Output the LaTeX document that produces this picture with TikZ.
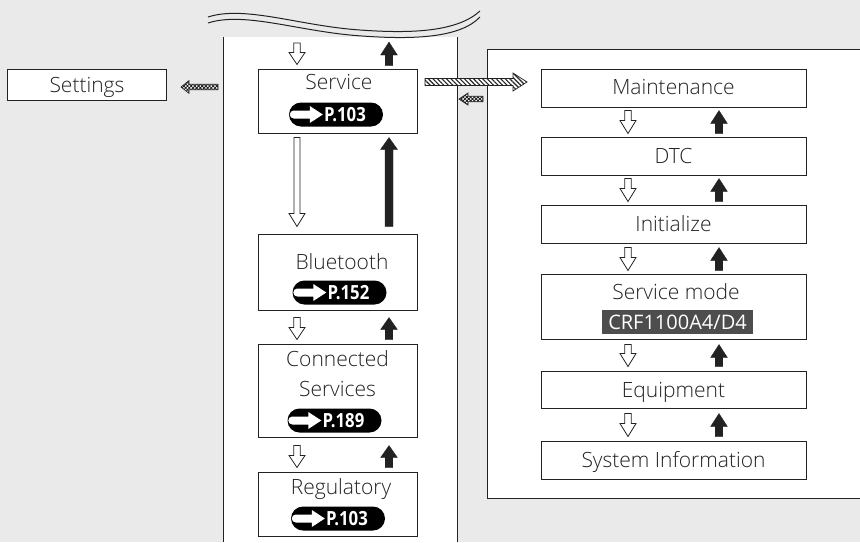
\documentclass[tikz,border=0pt]{standalone}
\usepackage{fontspec}
\setmainfont{Open Sans Light}[BoldFont={Open Sans Bold}]
\newfontfamily\regfont{Open Sans}
\newfontfamily\pillfont{Open Sans Bold}[FakeStretch=0.86]
\usetikzlibrary{calc,patterns,patterns.meta}
\definecolor{bg}{HTML}{EAEAEA}
\definecolor{ln}{HTML}{222222}
\definecolor{tagbg}{HTML}{4D4D4D}
% block arrow: style, from, to, shaft half width, head half width, head length
\newcommand\blockarr[6]{%
  \coordinate (bac) at ($(#3)!#6!(#2)$);
  \path[#1] ($(#2)!#4!90:(#3)$) -- ($(bac)!#4!90:(#3)$) -- ($(bac)!#5!90:(#3)$) -- (#3)
    -- ($(bac)!#5!-90:(#3)$) -- ($(bac)!#4!-90:(#3)$) -- ($(#2)!#4!-90:(#3)$) -- cycle;}
% pair of arrows between two stacked boxes
\newcommand\vpair[7]{%
  \coordinate (xd) at (#3,0); \coordinate (xu) at (#4,0);
  \path (#1.south) ++(0,#5) coordinate (yt);
  \path (#2.north) ++(0,-#6) coordinate (yb);
  \blockarr{hollowar}{yt -| xd}{yb -| xd}{3.2pt}{8pt}{#7}
  \blockarr{solidar}{yb -| xu}{yt -| xu}{3.8pt}{8.4pt}{#7}}
% white arrow glyph inside a pill
\newcommand\pillarrow[1]{%
  \begin{scope}[shift={(#1.west)}]
    \fill[white] (5,-4) -- (21,-4) -- (21,-8.5) -- (34,0) -- (21,8.5) -- (21,4) -- (5,4)
      arc[start angle=90,end angle=270,radius=4] -- cycle;
  \end{scope}}
\begin{document}
\begin{tikzpicture}[x=1pt,y=-1pt,
  box/.style={draw=ln, line width=1pt, fill=white, inner sep=0pt},
  lbox/.style={box, minimum width=159pt},
  rbox/.style={box, minimum width=265pt},
  txt/.style={font=\fontsize{21}{30}\selectfont, inner sep=0pt, text=ln, anchor=base},
  pill/.style={fill=black, rounded corners=12pt, minimum width=94pt, minimum height=24pt, inner sep=0pt},
  pilltxt/.style={font=\pillfont\fontsize{19.5}{21}\selectfont, text=white, inner sep=0pt, anchor=base west},
  tag/.style={fill=tagbg, text=white, font=\regfont\fontsize{20}{24}\selectfont, minimum width=151pt,
    minimum height=24pt, text height=14.3pt, text depth=0pt, inner sep=0pt},
  hollowar/.style={draw=ln, line width=0.8pt, fill=white, line join=miter},
  solidar/.style={draw=ln, fill=ln, line width=0.3pt},
  stripear/.style={draw=ln, line width=0.7pt, preaction={fill=white},
    pattern={Lines[angle=-45,distance=3.2pt,line width=1.1pt]}, pattern color=ln},
  dotar/.style={draw=ln, line width=0.7pt, preaction={fill=white},
    pattern={Hatch[angle=45,distance=2.6pt,line width=0.9pt]}, pattern color=ln},
  wave/.style={draw=ln, line width=1pt}]
\useasboundingbox (0,0) rectangle (860,542);
\fill[bg] (0,0) rectangle (860,542);

% centre panel
\fill[white] (223,37) rectangle (457,542);
\draw[ln, line width=1pt] (223,37) -- (223,542) (457,37) -- (457,542);
% right panel
\draw[ln, line width=1pt, fill=white] (487,49) rectangle (875,498);

% broken-off top
\path[wave] (208,17) .. controls (245,5) and (300,26) .. (360,30) .. controls (415,34) and (458,31) .. (480,11);
\path[wave] (208,23) .. controls (245,11) and (300,32) .. (362,36) .. controls (417,40) and (461,37) .. (480,17);

% Settings
\node[box, minimum width=159pt, minimum height=31pt] (set) at (86.5,84.5) {};
\node[txt] (sett) at (87,92.5) {Settings};

% left column
\node[lbox, minimum height=64pt] (svc) at (337.5,101) {};
\node[txt] (svct) at (339,89.3) {Service};
\node[pill] (p1) at (336,114.5) {};
\pillarrow{p1}
\node[pilltxt] (p1t) at ($(p1.west)+(35,7)$) {P.103};

\node[lbox, minimum height=76pt] (bt) at (337.5,272) {};
\node[txt] (btt) at (342,269) {Bluetooth};
\node[pill] (p2) at (339.5,292.5) {};
\pillarrow{p2}
\node[pilltxt] (p2t) at ($(p2.west)+(35,7)$) {P.152};

\node[lbox, minimum height=93pt] (cs) at (337.5,390.5) {};
\node[txt] (cst1) at (337.5,366.7) {Connected};
\node[txt] (cst2) at (337.5,396.7) {Services};
\node[pill] (p3) at (334.5,420.5) {};
\pillarrow{p3}
\node[pilltxt] (p3t) at ($(p3.west)+(35,7)$) {P.189};

\node[lbox, minimum height=64pt] (reg) at (337.5,504) {};
\node[txt] (regt) at (341,494.3) {Regulatory};
\node[pill] (p4) at (338,518.5) {};
\pillarrow{p4}
\node[pilltxt] (p4t) at ($(p4.west)+(35,7)$) {P.103};

% right column
\node[rbox, minimum height=38pt] (mnt) at (673.5,88) {};
\node[txt] (mntt) at (673.5,94.5) {Maintenance};
\node[rbox, minimum height=38pt] (dtc) at (673.5,156) {};
\node[txt] (dtct) at (673.5,163.3) {DTC};
\node[rbox, minimum height=38pt] (ini) at (673.5,224) {};
\node[txt] (init) at (673.5,231.5) {Initialize};
\node[rbox, minimum height=65pt] (smd) at (673.5,306.5) {};
\node[txt] (smdt) at (676,299.3) {Service mode};
\node[tag] (crf) at (677.5,322) {CRF1100A4/D4};
\node[rbox, minimum height=37pt] (eqp) at (673.5,389.5) {};
\node[txt] (eqpt) at (673.5,397) {Equipment};
\node[rbox, minimum height=38pt] (sys) at (673.5,460) {};
\node[txt] (syst) at (673.5,467.5) {System Information};

% arrows above Service
\coordinate (td) at (297,43);
\coordinate (tu) at (389,42);
\path (svc.north) ++(0,-4) coordinate (ys);
\path (svc.north) ++(0,-3) coordinate (ys2);
\blockarr{hollowar}{td}{ys -| td}{3.2pt}{8pt}{12pt}
\blockarr{solidar}{ys2 -| tu}{tu}{3.8pt}{8.4pt}{13pt}

% long arrows Service <-> Bluetooth
\coordinate (xd) at (297,0); \coordinate (xu) at (389,0);
\path (svc.south) ++(0,4) coordinate (yt);
\path (bt.north) ++(0,-7) coordinate (yb);
\blockarr{hollowar}{yt -| xd}{yb -| xd}{3pt}{8pt}{13pt}
\blockarr{solidar}{yb -| xu}{yt -| xu}{4pt}{8.5pt}{12pt}

% stacked pairs
\vpair{bt}{cs}{297}{389}{7}{4}{12pt}
\vpair{cs}{reg}{297}{389}{8}{4}{12pt}
\vpair{mnt}{dtc}{628}{719}{3}{3}{13pt}
\vpair{dtc}{ini}{628}{719}{3}{3}{13pt}
\vpair{ini}{smd}{628}{719}{4}{3}{13pt}
\vpair{smd}{eqp}{628}{719}{5}{4}{13pt}
\vpair{eqp}{sys}{628}{719}{5}{4}{13pt}

% patterned arrows
\coordinate (sa) at (425,82); \coordinate (sb) at (527,82);
\blockarr{stripear}{sa}{sb}{3.5pt}{9pt}{14pt}
\coordinate (da) at (483,99); \coordinate (db) at (459,99);
\blockarr{dotar}{da}{db}{2.7pt}{6pt}{9pt}
\coordinate (ea) at (218,87); \coordinate (eb) at (181,87);
\blockarr{dotar}{ea}{eb}{2.7pt}{6.3pt}{8pt}
\end{tikzpicture}
\end{document}
